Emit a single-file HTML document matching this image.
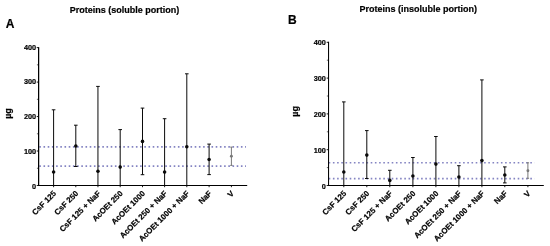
<!DOCTYPE html>
<html><head><meta charset="utf-8">
<style>
html,body{margin:0;padding:0;background:#fff;}
svg{display:block;font-family:"Liberation Sans",sans-serif;}
.shapes{filter:blur(0.25px);}
.texts{filter:blur(0.35px);}
.tk{font-size:7.3px;font-weight:bold;fill:#000;stroke:#000;stroke-width:0.2px;}
.xl{font-size:7.9px;font-weight:bold;fill:#000;stroke:#000;stroke-width:0.2px;}
.tt{font-size:9.0px;font-weight:bold;fill:#000;stroke:#000;stroke-width:0.2px;}
.pl{font-size:12px;font-weight:bold;fill:#000;stroke:#000;stroke-width:0.2px;}
.yl{font-size:9.0px;font-weight:bold;fill:#000;stroke:#000;stroke-width:0.2px;}
</style></head>
<body>
<svg width="550" height="246" viewBox="0 0 550 246">
<rect width="550" height="246" fill="#fff"/>
<g class="shapes">
<line x1="38.9" y1="146.85" x2="246" y2="146.85" stroke="#8484c2" stroke-width="1.55" stroke-dasharray="1.6 2.6" stroke-dashoffset="-0.4"/>
<line x1="38.9" y1="166.1" x2="246" y2="166.1" stroke="#8484c2" stroke-width="1.55" stroke-dasharray="1.6 2.6" stroke-dashoffset="-0.4"/>
<line x1="38.62" y1="47.15" x2="38.62" y2="186.0" stroke="#000" stroke-width="1.25"/>
<line x1="38.12" y1="185.5" x2="247.2" y2="185.5" stroke="#000" stroke-width="1.2"/>
<line x1="36.72" y1="185.50" x2="38.62" y2="185.50" stroke="#000" stroke-width="0.9"/>
<line x1="36.72" y1="151.03" x2="38.62" y2="151.03" stroke="#000" stroke-width="0.9"/>
<line x1="36.72" y1="116.55" x2="38.62" y2="116.55" stroke="#000" stroke-width="0.9"/>
<line x1="36.72" y1="82.08" x2="38.62" y2="82.08" stroke="#000" stroke-width="0.9"/>
<line x1="36.72" y1="47.60" x2="38.62" y2="47.60" stroke="#000" stroke-width="0.9"/>
<line x1="36.919999999999995" y1="168.26" x2="38.62" y2="168.26" stroke="#000" stroke-width="0.6"/>
<line x1="36.919999999999995" y1="133.79" x2="38.62" y2="133.79" stroke="#000" stroke-width="0.6"/>
<line x1="36.919999999999995" y1="99.31" x2="38.62" y2="99.31" stroke="#000" stroke-width="0.6"/>
<line x1="36.919999999999995" y1="64.84" x2="38.62" y2="64.84" stroke="#000" stroke-width="0.6"/>
<line x1="53.6" y1="109.8" x2="53.6" y2="185.5" stroke="#0a0a0a" stroke-width="1.0"/>
<line x1="51.800000000000004" y1="109.8" x2="55.4" y2="109.8" stroke="#0a0a0a" stroke-width="1.0"/>
<circle cx="53.6" cy="172" r="1.8" fill="#0a0a0a"/>
<line x1="53.6" y1="185.5" x2="53.6" y2="187.2" stroke="#000" stroke-width="0.9"/>
<line x1="75.8" y1="125.2" x2="75.8" y2="166.5" stroke="#0a0a0a" stroke-width="1.0"/>
<line x1="74.0" y1="125.2" x2="77.6" y2="125.2" stroke="#0a0a0a" stroke-width="1.0"/>
<line x1="74.0" y1="166.5" x2="77.6" y2="166.5" stroke="#0a0a0a" stroke-width="1.0"/>
<circle cx="75.8" cy="146.0" r="1.8" fill="#0a0a0a"/>
<line x1="75.8" y1="185.5" x2="75.8" y2="187.2" stroke="#000" stroke-width="0.9"/>
<line x1="97.95" y1="86.4" x2="97.95" y2="185.5" stroke="#0a0a0a" stroke-width="1.0"/>
<line x1="96.15" y1="86.4" x2="99.75" y2="86.4" stroke="#0a0a0a" stroke-width="1.0"/>
<circle cx="97.95" cy="171.3" r="1.8" fill="#0a0a0a"/>
<line x1="97.95" y1="185.5" x2="97.95" y2="187.2" stroke="#000" stroke-width="0.9"/>
<line x1="120.2" y1="129.6" x2="120.2" y2="185.5" stroke="#0a0a0a" stroke-width="1.0"/>
<line x1="118.4" y1="129.6" x2="122.0" y2="129.6" stroke="#0a0a0a" stroke-width="1.0"/>
<circle cx="120.2" cy="167.1" r="1.8" fill="#0a0a0a"/>
<line x1="120.2" y1="185.5" x2="120.2" y2="187.2" stroke="#000" stroke-width="0.9"/>
<line x1="142.5" y1="108.1" x2="142.5" y2="174.7" stroke="#0a0a0a" stroke-width="1.0"/>
<line x1="140.7" y1="108.1" x2="144.3" y2="108.1" stroke="#0a0a0a" stroke-width="1.0"/>
<line x1="140.7" y1="174.7" x2="144.3" y2="174.7" stroke="#0a0a0a" stroke-width="1.0"/>
<circle cx="142.5" cy="141.4" r="1.8" fill="#0a0a0a"/>
<line x1="142.5" y1="185.5" x2="142.5" y2="187.2" stroke="#000" stroke-width="0.9"/>
<line x1="164.6" y1="118.7" x2="164.6" y2="185.5" stroke="#0a0a0a" stroke-width="1.0"/>
<line x1="162.79999999999998" y1="118.7" x2="166.4" y2="118.7" stroke="#0a0a0a" stroke-width="1.0"/>
<circle cx="164.6" cy="172.1" r="1.8" fill="#0a0a0a"/>
<line x1="164.6" y1="185.5" x2="164.6" y2="187.2" stroke="#000" stroke-width="0.9"/>
<line x1="186.8" y1="73.8" x2="186.8" y2="185.5" stroke="#0a0a0a" stroke-width="1.0"/>
<line x1="185.0" y1="73.8" x2="188.60000000000002" y2="73.8" stroke="#0a0a0a" stroke-width="1.0"/>
<circle cx="186.8" cy="146.7" r="1.8" fill="#0a0a0a"/>
<line x1="186.8" y1="185.5" x2="186.8" y2="187.2" stroke="#000" stroke-width="0.9"/>
<line x1="209.1" y1="144.1" x2="209.1" y2="174.6" stroke="#0a0a0a" stroke-width="1.0"/>
<line x1="207.29999999999998" y1="144.1" x2="210.9" y2="144.1" stroke="#0a0a0a" stroke-width="1.0"/>
<line x1="207.29999999999998" y1="174.6" x2="210.9" y2="174.6" stroke="#0a0a0a" stroke-width="1.0"/>
<circle cx="209.1" cy="159.5" r="1.8" fill="#0a0a0a"/>
<line x1="209.1" y1="185.5" x2="209.1" y2="187.2" stroke="#000" stroke-width="0.9"/>
<line x1="231.4" y1="147.1" x2="231.4" y2="165.4" stroke="#787878" stroke-width="1.0"/>
<line x1="230.20000000000002" y1="147.1" x2="232.6" y2="147.1" stroke="#787878" stroke-width="1.0"/>
<line x1="230.20000000000002" y1="165.4" x2="232.6" y2="165.4" stroke="#787878" stroke-width="1.0"/>
<circle cx="231.4" cy="156.2" r="1.45" fill="#787878"/>
<line x1="231.4" y1="185.5" x2="231.4" y2="187.2" stroke="#000" stroke-width="0.9"/>
<line x1="328.7" y1="162.7" x2="534.6" y2="162.7" stroke="#8484c2" stroke-width="1.55" stroke-dasharray="1.6 2.6" stroke-dashoffset="0"/>
<line x1="328.7" y1="178.6" x2="534.6" y2="178.6" stroke="#8484c2" stroke-width="1.55" stroke-dasharray="1.6 2.6" stroke-dashoffset="0"/>
<line x1="328.55" y1="41.849999999999994" x2="328.55" y2="186.0" stroke="#000" stroke-width="1.05"/>
<line x1="328.05" y1="185.5" x2="543.8" y2="185.5" stroke="#000" stroke-width="1.2"/>
<line x1="326.65000000000003" y1="185.50" x2="328.55" y2="185.50" stroke="#000" stroke-width="0.9"/>
<line x1="326.65000000000003" y1="149.70" x2="328.55" y2="149.70" stroke="#000" stroke-width="0.9"/>
<line x1="326.65000000000003" y1="113.90" x2="328.55" y2="113.90" stroke="#000" stroke-width="0.9"/>
<line x1="326.65000000000003" y1="78.10" x2="328.55" y2="78.10" stroke="#000" stroke-width="0.9"/>
<line x1="326.65000000000003" y1="42.30" x2="328.55" y2="42.30" stroke="#000" stroke-width="0.9"/>
<line x1="326.85" y1="167.60" x2="328.55" y2="167.60" stroke="#000" stroke-width="0.6"/>
<line x1="326.85" y1="131.80" x2="328.55" y2="131.80" stroke="#000" stroke-width="0.6"/>
<line x1="326.85" y1="96.00" x2="328.55" y2="96.00" stroke="#000" stroke-width="0.6"/>
<line x1="326.85" y1="60.20" x2="328.55" y2="60.20" stroke="#000" stroke-width="0.6"/>
<line x1="343.8" y1="101.9" x2="343.8" y2="185.5" stroke="#0a0a0a" stroke-width="1.0"/>
<line x1="342.0" y1="101.9" x2="345.6" y2="101.9" stroke="#0a0a0a" stroke-width="1.0"/>
<circle cx="343.8" cy="171.95" r="1.8" fill="#0a0a0a"/>
<line x1="343.8" y1="185.5" x2="343.8" y2="187.2" stroke="#000" stroke-width="0.9"/>
<line x1="366.8" y1="130.6" x2="366.8" y2="178.5" stroke="#0a0a0a" stroke-width="1.0"/>
<line x1="365.0" y1="130.6" x2="368.6" y2="130.6" stroke="#0a0a0a" stroke-width="1.0"/>
<line x1="365.0" y1="178.5" x2="368.6" y2="178.5" stroke="#0a0a0a" stroke-width="1.0"/>
<circle cx="366.8" cy="155.1" r="1.8" fill="#0a0a0a"/>
<line x1="366.8" y1="185.5" x2="366.8" y2="187.2" stroke="#000" stroke-width="0.9"/>
<line x1="389.8" y1="170.3" x2="389.8" y2="185.5" stroke="#0a0a0a" stroke-width="1.0"/>
<line x1="388.0" y1="170.3" x2="391.6" y2="170.3" stroke="#0a0a0a" stroke-width="1.0"/>
<circle cx="389.8" cy="180.4" r="1.8" fill="#0a0a0a"/>
<line x1="389.8" y1="185.5" x2="389.8" y2="187.2" stroke="#000" stroke-width="0.9"/>
<line x1="412.9" y1="157.5" x2="412.9" y2="185.5" stroke="#0a0a0a" stroke-width="1.0"/>
<line x1="411.09999999999997" y1="157.5" x2="414.7" y2="157.5" stroke="#0a0a0a" stroke-width="1.0"/>
<circle cx="412.9" cy="176.0" r="1.8" fill="#0a0a0a"/>
<line x1="412.9" y1="185.5" x2="412.9" y2="187.2" stroke="#000" stroke-width="0.9"/>
<line x1="435.9" y1="136.5" x2="435.9" y2="185.5" stroke="#0a0a0a" stroke-width="1.0"/>
<line x1="434.09999999999997" y1="136.5" x2="437.7" y2="136.5" stroke="#0a0a0a" stroke-width="1.0"/>
<circle cx="435.9" cy="164.1" r="1.8" fill="#0a0a0a"/>
<line x1="435.9" y1="185.5" x2="435.9" y2="187.2" stroke="#000" stroke-width="0.9"/>
<line x1="458.9" y1="165.7" x2="458.9" y2="185.5" stroke="#0a0a0a" stroke-width="1.0"/>
<line x1="457.09999999999997" y1="165.7" x2="460.7" y2="165.7" stroke="#0a0a0a" stroke-width="1.0"/>
<circle cx="458.9" cy="177.0" r="1.8" fill="#0a0a0a"/>
<line x1="458.9" y1="185.5" x2="458.9" y2="187.2" stroke="#000" stroke-width="0.9"/>
<line x1="481.9" y1="79.9" x2="481.9" y2="185.5" stroke="#0a0a0a" stroke-width="1.0"/>
<line x1="480.09999999999997" y1="79.9" x2="483.7" y2="79.9" stroke="#0a0a0a" stroke-width="1.0"/>
<circle cx="481.9" cy="160.6" r="1.8" fill="#0a0a0a"/>
<line x1="481.9" y1="185.5" x2="481.9" y2="187.2" stroke="#000" stroke-width="0.9"/>
<line x1="504.8" y1="166.9" x2="504.8" y2="182.9" stroke="#0a0a0a" stroke-width="1.0"/>
<line x1="503.0" y1="166.9" x2="506.6" y2="166.9" stroke="#0a0a0a" stroke-width="1.0"/>
<line x1="503.0" y1="182.9" x2="506.6" y2="182.9" stroke="#0a0a0a" stroke-width="1.0"/>
<circle cx="504.8" cy="175.0" r="1.8" fill="#0a0a0a"/>
<line x1="504.8" y1="185.5" x2="504.8" y2="187.2" stroke="#000" stroke-width="0.9"/>
<line x1="527.9" y1="162.8" x2="527.9" y2="178.3" stroke="#787878" stroke-width="1.0"/>
<line x1="526.6999999999999" y1="162.8" x2="529.1" y2="162.8" stroke="#787878" stroke-width="1.0"/>
<line x1="526.6999999999999" y1="178.3" x2="529.1" y2="178.3" stroke="#787878" stroke-width="1.0"/>
<circle cx="527.9" cy="170.7" r="1.45" fill="#787878"/>
<line x1="527.9" y1="185.5" x2="527.9" y2="187.2" stroke="#000" stroke-width="0.9"/>
</g>
<g class="texts">
<text x="36.1" y="188.50" text-anchor="end" class="tk">0</text>
<text x="36.1" y="153.53" text-anchor="end" class="tk">100</text>
<text x="36.1" y="119.05" text-anchor="end" class="tk">200</text>
<text x="36.1" y="84.48" text-anchor="end" class="tk">300</text>
<text x="36.1" y="49.65" text-anchor="end" class="tk">400</text>
<text transform="translate(56.70,194.00) rotate(-45)" text-anchor="end" class="xl">CsF 125</text>
<text transform="translate(78.90,194.00) rotate(-45)" text-anchor="end" class="xl">CsF 250</text>
<text transform="translate(101.05,194.00) rotate(-45)" text-anchor="end" class="xl">CsF 125 + NaF</text>
<text transform="translate(123.30,194.00) rotate(-45)" text-anchor="end" class="xl">AcOEt 250</text>
<text transform="translate(145.60,194.00) rotate(-45)" text-anchor="end" class="xl">AcOEt 1000</text>
<text transform="translate(167.70,194.00) rotate(-45)" text-anchor="end" class="xl">AcOEt 250 + NaF</text>
<text transform="translate(189.90,194.00) rotate(-45)" text-anchor="end" class="xl">AcOEt 1000 + NaF</text>
<text transform="translate(212.20,194.00) rotate(-45)" text-anchor="end" class="xl">NaF</text>
<text transform="translate(234.50,194.00) rotate(-45)" text-anchor="end" class="xl">V</text>
<text x="124.4" y="12.9" text-anchor="middle" class="tt">Proteins (soluble portion)</text>
<text x="5.7" y="28" class="pl">A</text>
<text transform="translate(10.8,113.5) rotate(-90)" text-anchor="middle" class="yl">µg</text>
<text x="325.9" y="188.50" text-anchor="end" class="tk">0</text>
<text x="325.9" y="152.50" text-anchor="end" class="tk">100</text>
<text x="325.9" y="116.60" text-anchor="end" class="tk">200</text>
<text x="325.9" y="80.90" text-anchor="end" class="tk">300</text>
<text x="325.9" y="45.20" text-anchor="end" class="tk">400</text>
<text transform="translate(346.90,194.00) rotate(-45)" text-anchor="end" class="xl">CsF 125</text>
<text transform="translate(369.90,194.00) rotate(-45)" text-anchor="end" class="xl">CsF 250</text>
<text transform="translate(392.90,194.00) rotate(-45)" text-anchor="end" class="xl">CsF 125 + NaF</text>
<text transform="translate(416.00,194.00) rotate(-45)" text-anchor="end" class="xl">AcOEt 250</text>
<text transform="translate(439.00,194.00) rotate(-45)" text-anchor="end" class="xl">AcOEt 1000</text>
<text transform="translate(462.00,194.00) rotate(-45)" text-anchor="end" class="xl">AcOEt 250 + NaF</text>
<text transform="translate(485.00,194.00) rotate(-45)" text-anchor="end" class="xl">AcOEt 1000 + NaF</text>
<text transform="translate(507.90,194.00) rotate(-45)" text-anchor="end" class="xl">NaF</text>
<text transform="translate(531.00,194.00) rotate(-45)" text-anchor="end" class="xl">V</text>
<text x="418.3" y="12.3" text-anchor="middle" class="tt">Proteins (insoluble portion)</text>
<text x="288.1" y="23.6" class="pl">B</text>
<text transform="translate(298.3,111.3) rotate(-90)" text-anchor="middle" class="yl">µg</text>
</g>
</svg>
</body></html>
